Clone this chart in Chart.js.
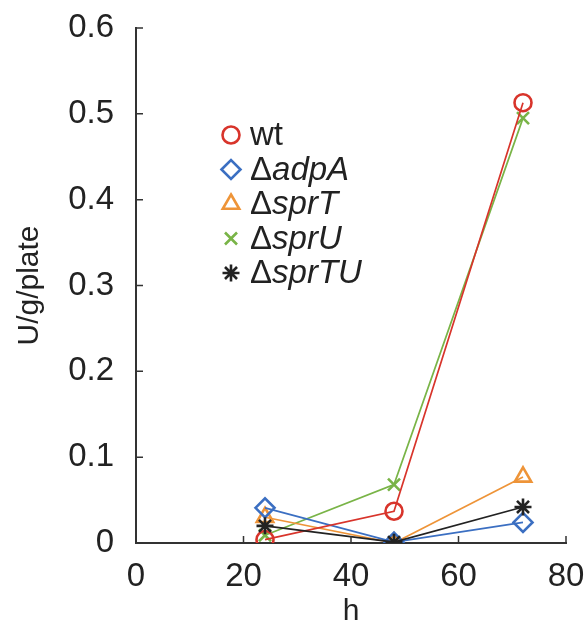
<!DOCTYPE html>
<html lang="en">
<head>
  <meta charset="UTF-8">
  <title>U/g/plate vs h</title>
  <script src="https://cdn.jsdelivr.net/npm/chart.js"></script>
  <style>
    html, body {
      margin: 0;
      padding: 0;
      background: #fff;
    }
    #wrap {
      width: 587px;
      height: 623px;
    }
  </style>
</head>
<body>
  <div id="wrap"><canvas id="chart" width="587" height="623"></canvas></div>

  <script>
    // data
    const hours = [24, 48, 72];
    const wt = [0.004, 0.037, 0.513];
    const adpA = [0.041, 0.001, 0.024];
    const sprT = [0.030, 0.000, 0.077];
    const sprU = [0.009, 0.068, 0.495];
    const sprTU = [0.020, 0.001, 0.042];

    const seriesNames = ['wt', 'adpA', 'sprT', 'sprU', 'sprTU'];
    const xTicks = [0, 20, 40, 60, 80];
    const yTicks = [0, 0.1, 0.2, 0.3, 0.4, 0.5, 0.6];

    const FONT = '"Liberation Sans", Arial, sans-serif';

    function series(name, values, color, style, radius, order) {
      return {
        label: name,
        data: hours.map((h, i) => ({ x: h, y: values[i] })),
        borderColor: color,
        backgroundColor: 'rgba(0,0,0,0)',
        pointBorderColor: color,
        pointBackgroundColor: 'rgba(0,0,0,0)',
        pointStyle: style,
        pointRadius: radius,
        pointBorderWidth: 2.6,
        borderWidth: 1.7,
        tension: 0,
        order: order
      };
    }

    // inward tick marks on both axes
    const innerTicks = {
      id: 'innerTicks',
      afterDatasetsDraw(chart) {
        const ctx = chart.ctx;
        const x = chart.scales.x, y = chart.scales.y;
        ctx.save();
        ctx.strokeStyle = '#333';
        ctx.lineWidth = 1.5;
        ctx.beginPath();
        yTicks.forEach(v => {
          const py = y.getPixelForValue(v);
          ctx.moveTo(x.left, py);
          ctx.lineTo(x.left + 7, py);
        });
        xTicks.forEach(v => {
          const px = x.getPixelForValue(v);
          ctx.moveTo(px, y.bottom);
          ctx.lineTo(px, y.bottom - 7);
        });
        ctx.stroke();
        ctx.restore();
      }
    };

    // legend drawn inside the plot area
    const innerLegend = {
      id: 'innerLegend',
      afterDraw(chart) {
        const ctx = chart.ctx;
        const mx = 231, tx = 250, top = 135, step = 34.5;
        ctx.save();
        chart.data.datasets.forEach((ds, i) => {
          const cy = top + i * step;
          ctx.strokeStyle = ds.pointBorderColor;
          ctx.fillStyle = 'rgba(0,0,0,0)';
          ctx.lineWidth = ds.pointBorderWidth;
          Chart.helpers.drawPoint(ctx, {
            pointStyle: ds.pointStyle,
            radius: ds.pointRadius,
            borderWidth: ds.pointBorderWidth,
            rotation: 0
          }, mx, cy);
          ctx.fillStyle = '#222';
          ctx.textBaseline = 'middle';
          ctx.textAlign = 'left';
          ctx.font = '33px ' + FONT;
          if (i === 0) {
            ctx.fillText(ds.label, tx, cy + 1);
          } else {
            ctx.fillText('\u0394', tx, cy + 1);
            const w = ctx.measureText('\u0394').width;
            ctx.font = 'italic 33px ' + FONT;
            ctx.fillText(ds.label, tx + w, cy + 1);
          }
        });
        ctx.restore();
      }
    };

    const ctx = document.getElementById('chart').getContext('2d');
    new Chart(ctx, {
      type: 'line',
      data: {
        datasets: [
          series(seriesNames[0], wt, '#d8342b', 'circle', 8.5, 2),
          series(seriesNames[1], adpA, '#3b6fc2', 'rectRot', 9.5, 3),
          series(seriesNames[2], sprT, '#ee9438', 'triangle', 9.5, 4),
          series(seriesNames[3], sprU, '#79b447', 'crossRot', 8.5, 5),
          series(seriesNames[4], sprTU, '#222222', 'star', 8.5, 1)
        ]
      },
      options: {
        responsive: false,
        animation: false,
        layout: { padding: { top: 28, right: 21, left: 0, bottom: 0 } },
        plugins: {
          legend: { display: false },
          tooltip: { enabled: false }
        },
        scales: {
          x: {
            type: 'linear',
            min: 0,
            max: 80,
            afterBuildTicks: s => { s.ticks = xTicks.map(v => ({ value: v })); },
            afterFit: s => {
              s.height = 80;
              s.paddingLeft = 0;
              s.paddingRight = 0;
            },
            grid: { display: false, drawTicks: false },
            border: { display: true, color: '#333', width: 2 },
            ticks: {
              padding: 14,
              color: '#222',
              font: { family: FONT, size: 33 },
              maxRotation: 0,
              callback: v => String(v)
            },
            title: {
              display: true,
              text: 'h',
              color: '#222',
              font: { family: FONT, size: 30 },
              padding: { top: 0, bottom: -7 }
            }
          },
          y: {
            min: 0,
            max: 0.6,
            afterBuildTicks: s => { s.ticks = yTicks.map(v => ({ value: v })); },
            afterFit: s => {
              s.width = 136;
              s.paddingTop = 0;
              s.paddingBottom = 0;
            },
            grid: { display: false, drawTicks: false },
            border: { display: true, color: '#333', width: 2 },
            ticks: {
              padding: 22,
              color: '#222',
              font: { family: FONT, size: 33 },
              callback: v => (v === 0 ? '0' : v.toFixed(1))
            },
            title: {
              display: true,
              text: 'U/g/plate',
              color: '#222',
              font: { family: FONT, size: 30 },
              padding: { top: 12, bottom: 0 }
            }
          }
        }
      },
      plugins: [innerTicks, innerLegend]
    });
  </script>
</body>
</html>
